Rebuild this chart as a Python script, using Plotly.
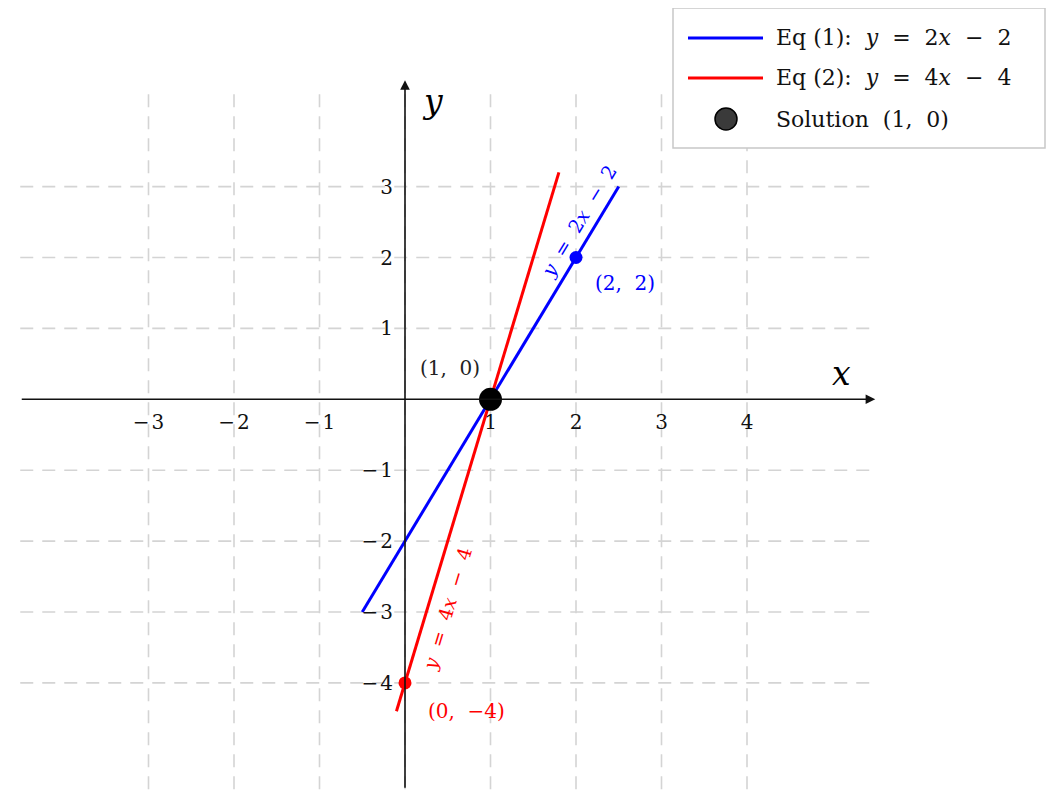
import plotly.graph_objects as go

# data
eq1_x = [-0.5, 2.5]
eq1_y = [-3, 3]
eq2_x = [-0.1, 1.8]
eq2_y = [-4.4, 3.2]
solution = (1, 0)
eq1_point = (2, 2)
eq2_point = (0, -4)
x_ticks = [-3, -2, -1, 1, 2, 3, 4]
y_ticks = [-4, -3, -2, -1, 1, 2, 3]
grid_x = [-3, -2, -1, 0, 1, 2, 3, 4]
grid_y = [-4, -3, -2, -1, 1, 2, 3]

W, H = 1060, 810
OFF = 8  # page body margin in the browser
FONT = "DejaVu Serif"
BLUE = "#0000ff"
RED = "#ff0000"
SP = "\u00a0"
SP2 = SP * 2


def minus(v):
    return str(v).replace("-", "\u2212\u200a")


def px(x):
    return (x - OFF) / W


def py(y):
    return 1 - (y - OFF) / H


def eq(a, b):
    return f"<i>y</i>{SP2}={SP2}{a}<i>x</i>{SP2}\u2212{SP2}{b}"


def pt(a, b):
    return f"({a},{SP2}{b})"


fig = go.Figure()

# dashed grid, limited to the drawing area
gx, gy = [], []
for v in grid_x:
    gx += [v, v, None]
    gy += [-5.5, 4.32, None]
for v in grid_y:
    gx += [-4.5, 5.5, None]
    gy += [v, v, None]
fig.add_trace(go.Scatter(x=gx, y=gy, mode="lines", hoverinfo="skip",
                         line=dict(color="#d4d4d4", width=1.6, dash="13px,9px")))

# the two equations
fig.add_trace(go.Scatter(x=eq1_x, y=eq1_y, mode="lines", name="Eq (1)",
                         line=dict(color=BLUE, width=3)))
fig.add_trace(go.Scatter(x=eq2_x, y=eq2_y, mode="lines", name="Eq (2)",
                         line=dict(color=RED, width=3)))

# marked points
fig.add_trace(go.Scatter(x=[eq1_point[0]], y=[eq1_point[1]], mode="markers",
                         marker=dict(color=BLUE, size=13)))
fig.add_trace(go.Scatter(x=[eq2_point[0]], y=[eq2_point[1]], mode="markers",
                         marker=dict(color=RED, size=13)))
fig.add_trace(go.Scatter(x=[solution[0]], y=[solution[1]], mode="markers",
                         marker=dict(color="black", size=23)))

annotations = []

# axes with arrows
annotations.append(dict(x=5.5, y=0, ax=-4.5, ay=0, xref="x", yref="y", axref="x", ayref="y",
                        text="", showarrow=True, arrowhead=2, arrowsize=1.2,
                        arrowwidth=1.6, arrowcolor="#111"))
annotations.append(dict(x=0, y=4.5, ax=0, ay=-5.5, xref="x", yref="y", axref="x", ayref="y",
                        text="", showarrow=True, arrowhead=2, arrowsize=1.2,
                        arrowwidth=1.6, arrowcolor="#111"))
annotations.append(dict(x=5.1, y=0.37, text="<i>x</i>", showarrow=False,
                        font=dict(family=FONT, size=33, color="black")))
annotations.append(dict(x=0.32, y=4.2, text="<i>y</i>", showarrow=False,
                        font=dict(family=FONT, size=33, color="black")))

# line labels along the lines
annotations.append(dict(x=2.03, y=2.52, text=eq(2, 2), showarrow=False,
                        textangle=-58.9, font=dict(family=FONT, size=19, color=BLUE)))
annotations.append(dict(x=0.5, y=-2.95, text=eq(4, 4), showarrow=False,
                        textangle=-73.2, font=dict(family=FONT, size=19, color=RED)))

# point labels
annotations.append(dict(x=2.57, y=1.64, text=pt(2, 2), showarrow=False,
                        font=dict(family=FONT, size=20, color=BLUE)))
annotations.append(dict(x=0.72, y=-4.39, text=pt(0, "\u22124"), showarrow=False,
                        font=dict(family=FONT, size=20, color=RED)))
annotations.append(dict(x=0.53, y=0.44, text=pt(1, 0), showarrow=False,
                        font=dict(family=FONT, size=20, color="#222")))

# hand-built legend box (paper coords from pixels)
shapes = [
    dict(type="rect", xref="paper", yref="paper", x0=px(673), x1=px(1045), y0=py(148), y1=py(8),
         line=dict(color="#c8c8c8", width=1.5), fillcolor="white", layer="above"),
    dict(type="line", xref="paper", yref="paper", x0=px(688), x1=px(763), y0=py(38), y1=py(38),
         line=dict(color=BLUE, width=3), layer="above"),
    dict(type="line", xref="paper", yref="paper", x0=px(688), x1=px(763), y0=py(78), y1=py(78),
         line=dict(color=RED, width=3), layer="above"),
    dict(type="circle", xref="paper", yref="paper", xsizemode="pixel", ysizemode="pixel",
         xanchor=px(726), yanchor=py(119), x0=-11, x1=11, y0=-11, y1=11,
         fillcolor="#3a3a3a", line=dict(color="black", width=1.5), layer="above"),
]
legend_rows = [
    (38, f"Eq{SP}(1):{SP * 2}" + eq(2, 2)),
    (78, f"Eq{SP}(2):{SP * 2}" + eq(4, 4)),
    (119, f"Solution{SP2}" + pt(1, 0)),
]
for ypix, txt in legend_rows:
    annotations.append(dict(x=px(774), y=py(ypix), xref="paper", yref="paper", text=txt,
                            showarrow=False, xanchor="left", yanchor="middle",
                            font=dict(family=FONT, size=22, color="#111")))

x0_pix, y0_pix = 405 - OFF, 399.3 - OFF
ux, uy = 85.5, 70.9

fig.update_layout(
    width=W, height=H,
    margin=dict(l=0, r=0, t=0, b=0),
    paper_bgcolor="white", plot_bgcolor="white",
    showlegend=False,
    xaxis=dict(range=[-x0_pix / ux, (W - x0_pix) / ux], showgrid=False, zeroline=False,
               showline=False, tickvals=x_ticks, ticktext=[minus(v) for v in x_ticks],
               anchor="free", position=1 - y0_pix / H, side="bottom",
               ticks="", ticklabelstandoff=9,
               tickfont=dict(family=FONT, size=20, color="#111")),
    yaxis=dict(range=[(y0_pix - H) / uy, y0_pix / uy], showgrid=False, zeroline=False,
               showline=False, tickvals=y_ticks, ticktext=[minus(v) for v in y_ticks],
               anchor="free", position=x0_pix / W, side="left",
               ticks="", ticklabelstandoff=12,
               tickfont=dict(family=FONT, size=20, color="#111")),
    shapes=shapes,
    annotations=annotations,
)

fig.write_html("out.html")
